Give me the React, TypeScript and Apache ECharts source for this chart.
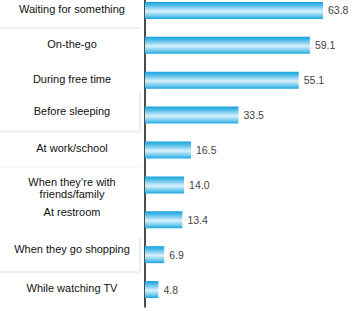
import React, { useEffect, useRef } from "react";
import * as echarts from "echarts";

const categories = [
  "Waiting for something",
  "On-the-go",
  "During free time",
  "Before sleeping",
  "At work/school",
  "When they\u2019re with\nfriends/family",
  "At restroom",
  "When they go shopping",
  "While watching TV",
];
const values = [63.8, 59.1, 55.1, 33.5, 16.5, 14.0, 13.4, 6.9, 4.8];

// vertical nudge of each category label (px, negative = up)
const labelNudge = [-1, -1.5, -1.5, -4, -2.5, 3, -7.5, -6, -2];

export default function App() {
  const ref = useRef<HTMLDivElement>(null);
  useEffect(() => {
    if (!ref.current) return;
    const chart = echarts.init(ref.current, null, { renderer: "svg" });
    const barGradient = new echarts.graphic.LinearGradient(0, 0, 0, 1, [
      { offset: 0, color: "#16a3dd" },
      { offset: 0.18, color: "#48b9e7" },
      { offset: 0.55, color: "#d9f0fb" },
      { offset: 0.85, color: "#62c4ec" },
      { offset: 1, color: "#1ba7df" },
    ]);
    const baseText = {
      color: "#111111",
      fontSize: 11,
      lineHeight: 12,
      fontFamily: "Liberation Sans",
      align: "center",
    };
    const rich: Record<string, any> = {};
    labelNudge.forEach((n, i) => {
      const pad = n < 0 ? [0, 0, -2 * n, 0] : [2 * n, 0, 0, 0];
      rich["a" + i] = { ...baseText, padding: pad };
    });
    const faint = { stroke: "#e9eff5", lineWidth: 2 };
    chart.setOption({
      animation: false,
      backgroundColor: "#ffffff",
      grid: {
        left: 145,
        right: 20.7,
        top: -7,
        height: 314,
        containLabel: false,
        outerBoundsMode: "none",
      },
      xAxis: {
        type: "value",
        min: 0,
        max: 70,
        show: false,
      },
      yAxis: {
        type: "category",
        inverse: true,
        data: categories,
        axisLine: { show: true, lineStyle: { color: "#111111", width: 1.5 } },
        axisTick: { show: false },
        splitLine: { show: false },
        axisLabel: {
          align: "center",
          margin: 73,
          color: "#111111",
          fontSize: 11,
          lineHeight: 12,
          fontFamily: "Liberation Sans",
          interval: 0,
          formatter: (v: string, i: number) =>
            v
              .split("\n")
              .map((l) => `{a${i}|${l}}`)
              .join("\n"),
          rich,
        },
      },
      graphic: [
        { type: "line", shape: { x1: 0, y1: 28, x2: 140, y2: 28 }, style: faint, silent: true },
        { type: "line", shape: { x1: 0, y1: 131.5, x2: 140, y2: 131.5 }, style: faint, silent: true },
        { type: "line", shape: { x1: 140, y1: 92, x2: 140, y2: 131 }, style: faint, silent: true },
        { type: "line", shape: { x1: 0, y1: 167, x2: 140, y2: 167 }, style: { stroke: "#f1f4f7", lineWidth: 1 }, silent: true },
        { type: "line", shape: { x1: 0, y1: 272, x2: 140, y2: 272 }, style: faint, silent: true },
        { type: "line", shape: { x1: 140, y1: 238, x2: 140, y2: 272 }, style: faint, silent: true },
      ],
      series: [
        {
          type: "bar",
          data: values,
          barWidth: 17,
          itemStyle: { color: barGradient },
          label: {
            show: true,
            position: "right",
            distance: 5,
            color: "#444444",
            fontSize: 10.5,
            fontFamily: "Liberation Sans",
            formatter: (p: any) => Number(p.value).toFixed(1),
          },
        },
      ],
    });
    return () => chart.dispose();
  }, []);
  return (
    <div
      ref={ref}
      style={{ position: "fixed", left: 0, top: 0, width: 361, height: 311 }}
    />
  );
}
